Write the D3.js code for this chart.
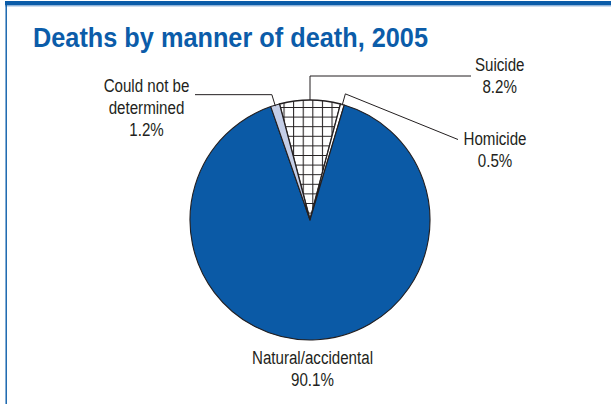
<!DOCTYPE html>
<html>
<head>
<meta charset="utf-8">
<script src="https://cdn.jsdelivr.net/npm/d3@7"></script>
<style>
  html, body { margin: 0; padding: 0; background: #ffffff; }
  svg { display: block; }
  text { font-family: "Liberation Sans Narrow", "Arial Narrow", "Liberation Sans", sans-serif; fill: #231f20; }
</style>
</head>
<body>
<div id="chart"></div>
<script>
// ---- data ----
const title = "Deaths by manner of death, 2005";
const categories = ["Suicide", "Homicide", "Natural/accidental", "Could not be determined"];
const values = [8.2, 0.5, 90.1, 1.2];
const labelLines = [["Suicide"], ["Homicide"], ["Natural/accidental"], ["Could not be", "determined"]];

// ---- layout / style ----
const W = 611, H = 404;
const blue = "#0b5ca9";
const cx = 310, cy = 220, R = 120;
const fills = ["url(#grid)", "#ffffff", "#0b5aa6", "#c4cee7"];
const squeeze = 0.84;

const svg = d3.select("#chart").append("svg").attr("width", W).attr("height", H);

// frame
svg.append("rect").attr("x", 5).attr("y", 1).attr("width", W - 5).attr("height", 4.5).attr("fill", blue);
svg.append("rect").attr("x", 5).attr("y", 5.5).attr("width", W - 5).attr("height", 1).attr("fill", "#9bbbe0");
svg.append("rect").attr("x", 5.5).attr("y", 1).attr("width", 1.4).attr("height", H).attr("fill", blue);

// title
svg.append("text")
  .attr("x", 33).attr("y", 47)
  .attr("textLength", 395).attr("lengthAdjust", "spacingAndGlyphs")
  .style("font-family", "'Liberation Sans Narrow', 'Liberation Sans', sans-serif")
  .style("font-weight", "bold").style("font-size", "27px").style("fill", blue)
  .text(title);

// hatch pattern
const defs = svg.append("defs");
const gs = 9.6;
const pat = defs.append("pattern").attr("id", "grid")
  .attr("patternUnits", "userSpaceOnUse")
  .attr("x", cx - 0.5).attr("y", 108.3 - 0.5)
  .attr("width", gs).attr("height", gs);
pat.append("rect").attr("width", gs).attr("height", gs).attr("fill", "#ffffff");
pat.append("path").attr("d", `M0.5,0V${gs}M0,0.5H${gs}`).attr("stroke", "#231f20").attr("stroke-width", 1.1).attr("fill", "none");

// pie
const total = d3.sum(values);
const start = -Math.PI * values[0] / total;
const pie = d3.pie().sort(null).startAngle(start).endAngle(start + 2 * Math.PI);
const arcs = pie(values);
const arc = d3.arc().innerRadius(0).outerRadius(R);

const g = svg.append("g").attr("transform", `translate(${cx},${cy})`);
g.selectAll("path.slice").data(arcs).join("path")
  .attr("class", "slice")
  .attr("d", arc)
  .attr("fill", (d, i) => fills[i])
  .attr("stroke", "#231f20")
  .attr("stroke-width", (d, i) => i === 0 ? 1.6 : 1.1)
  .attr("stroke-linejoin", "round");

// helpers
const mid = d => (d.startAngle + d.endAngle) / 2;
const pt = (a, r) => [cx + r * Math.sin(a), cy - r * Math.cos(a)];

// leader lines
const line = d3.line();
const leaders = [
  (d) => { const p0 = pt(mid(d), R); return [p0, [p0[0], 76], [471, 76]]; },
  (d) => [pt(mid(d), R - 1), pt(mid(d), R + 11), [458, 139.5]],
  null,
  (d) => { const p1 = pt(mid(d), R + 11); return [pt(mid(d), R - 1), p1, [195, p1[1]]]; }
];
arcs.forEach((d, i) => {
  if (!leaders[i]) return;
  svg.append("path").attr("d", line(leaders[i](d)))
    .attr("fill", "none").attr("stroke", "#231f20").attr("stroke-width", 1);
});

// labels
const labelPos = [
  { x: 499.7, y: 70.7 },
  { x: 495, y: 145 },
  { x: 312.5, y: 364.3 },
  { x: 146.5, y: 92.3 }
];
const lh = 22;
arcs.forEach((d, i) => {
  const lines = labelLines[i].concat([d3.format(".1f")(values[i]) + "%"]);
  const t = svg.append("text")
    .attr("text-anchor", "middle")
    .style("font-size", "18px");
  lines.forEach((s, k) => {
    const ts = t.append("tspan").attr("x", labelPos[i].x).attr("y", labelPos[i].y + k * lh).text(s);
    const w = ts.node().getComputedTextLength();
    ts.attr("textLength", w * squeeze).attr("lengthAdjust", "spacingAndGlyphs");
  });
});
</script>
</body>
</html>
